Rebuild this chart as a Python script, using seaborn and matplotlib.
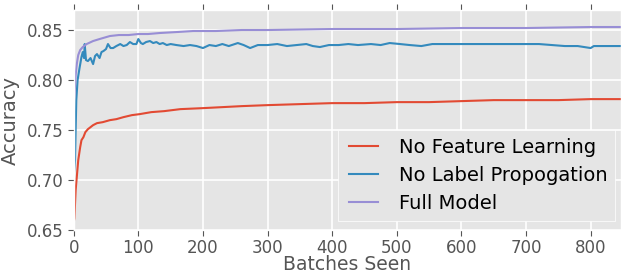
import matplotlib
matplotlib.use("Agg")
import matplotlib.pyplot as plt
from matplotlib.legend_handler import HandlerLine2D
from matplotlib.lines import Line2D
import seaborn as sns
import pandas as pd

# ---------------- data ----------------
red_x = [0, 1, 3, 5, 7, 10, 12, 15, 18, 22, 26, 30, 36, 45, 56, 66, 77, 90, 102,
         120, 140, 165, 200, 230, 260, 300, 350, 400, 450, 500, 550, 600, 650,
         700, 750, 800, 846]
red_y = [0.658, 0.662, 0.690, 0.705, 0.720, 0.733, 0.740, 0.743, 0.748, 0.751,
         0.753, 0.755, 0.757, 0.758, 0.760, 0.761, 0.763, 0.765, 0.766, 0.768,
         0.769, 0.771, 0.772, 0.773, 0.774, 0.775, 0.776, 0.777, 0.777, 0.778,
         0.778, 0.779, 0.780, 0.780, 0.780, 0.781, 0.781]

blue_x = [0, 2, 4, 6, 9, 12, 14, 16, 17, 19, 22, 26, 30, 33, 36, 40, 43, 46, 50,
          53, 57, 61, 66, 72, 77, 82, 87, 92, 97, 100, 104, 107, 112, 118, 123,
          128, 133, 138, 144, 150, 159, 170, 180, 190, 200, 210, 220, 230, 240,
          254, 263, 273, 285, 300, 315, 330, 345, 360, 370, 381, 395, 410, 425,
          440, 460, 475, 489, 505, 520, 538, 555, 575, 600, 630, 660, 690, 720,
          740, 760, 780, 800, 805, 830, 846]
blue_y = [0.705, 0.720, 0.780, 0.800, 0.812, 0.823, 0.828, 0.822, 0.836, 0.820,
          0.819, 0.822, 0.816, 0.824, 0.826, 0.822, 0.828, 0.829, 0.831, 0.836,
          0.832, 0.832, 0.834, 0.836, 0.834, 0.835, 0.838, 0.836, 0.836, 0.841,
          0.837, 0.836, 0.838, 0.839, 0.837, 0.838, 0.836, 0.837, 0.835, 0.836,
          0.835, 0.834, 0.835, 0.834, 0.832, 0.835, 0.834, 0.836, 0.834, 0.837,
          0.835, 0.832, 0.835, 0.835, 0.836, 0.834, 0.835, 0.836, 0.834, 0.833,
          0.835, 0.835, 0.836, 0.835, 0.836, 0.835, 0.837, 0.836, 0.835, 0.834,
          0.836, 0.836, 0.836, 0.836, 0.836, 0.836, 0.836, 0.835, 0.834, 0.834,
          0.832, 0.834, 0.834, 0.834]

purple_x = [0, 1, 2, 3, 5, 7, 10, 14, 20, 30, 40, 56, 70, 85, 100, 115, 133, 160,
            185, 220, 260, 300, 400, 500, 600, 700, 800, 846]
purple_y = [0.775, 0.785, 0.795, 0.805, 0.817, 0.825, 0.830, 0.833, 0.836, 0.839,
            0.841, 0.844, 0.845, 0.845, 0.846, 0.846, 0.847, 0.848, 0.849, 0.849,
            0.850, 0.850, 0.851, 0.851, 0.852, 0.852, 0.853, 0.853]

series_names = ["No Feature Learning", "No Label Propogation", "Full Model"]
colors = ["#E24A33", "#348ABD", "#988ED5"]

x_ticks = [0, 100, 200, 300, 400, 500, 600, 700, 800]
y_ticks = [0.65, 0.70, 0.75, 0.80, 0.85]

# ---------------- style ----------------
plt.style.use("ggplot")
plt.rcParams["font.family"] = ["DejaVu Sans"]

frames = []
for name, xs, ys in zip(series_names, [red_x, blue_x, purple_x],
                        [red_y, blue_y, purple_y]):
    frames.append(pd.DataFrame({"batch": xs, "acc": ys, "series": name}))
df = pd.concat(frames, ignore_index=True)

fig = plt.figure(figsize=(6.21, 2.73), dpi=100)
ax = fig.add_axes([0.1187, 0.1564, 0.8813, 0.807])

sns.lineplot(data=df, x="batch", y="acc", hue="series", hue_order=series_names,
             palette=colors, estimator=None, sort=True, linewidth=1.5, ax=ax)

ax.set_xlim(0, 847)
ax.set_ylim(0.65, 0.87)
ax.set_xticks(x_ticks)
ax.set_xticklabels([str(v) for v in x_ticks])
ax.set_yticks(y_ticks)
ax.set_yticklabels([f"{v:.2f}" for v in y_ticks])
ax.tick_params(axis="both", labelsize=12, colors="#555555", direction="out",
               top=True, right=True, length=4, width=0.8)
ax.tick_params(axis="x", pad=2)
ax.set_xlabel("Batches Seen", fontsize=13.5, color="#555555", labelpad=-1.5)
ax.set_ylabel("Accuracy", fontsize=14, color="#555555", labelpad=5)
ax.grid(True, color="white", linewidth=1.2)
ax.set_facecolor("#E5E5E5")

handles, labels = ax.get_legend_handles_labels()
leg = ax.legend(handles, labels, loc="lower right",
                bbox_to_anchor=(1 - 6 / 547, 9.3 / 220),
                fontsize=14, handlelength=1.65, handletextpad=1.05,
                labelspacing=0.48, borderaxespad=0.0, borderpad=0.4,
                frameon=True, facecolor="#E5E5E5", edgecolor="white",
                framealpha=1.0, fancybox=False,
                handler_map={Line2D: HandlerLine2D(xpad=0.15)})
for t in leg.get_texts():
    t.set_color("black")

fig.savefig("out.png", dpi=100)
